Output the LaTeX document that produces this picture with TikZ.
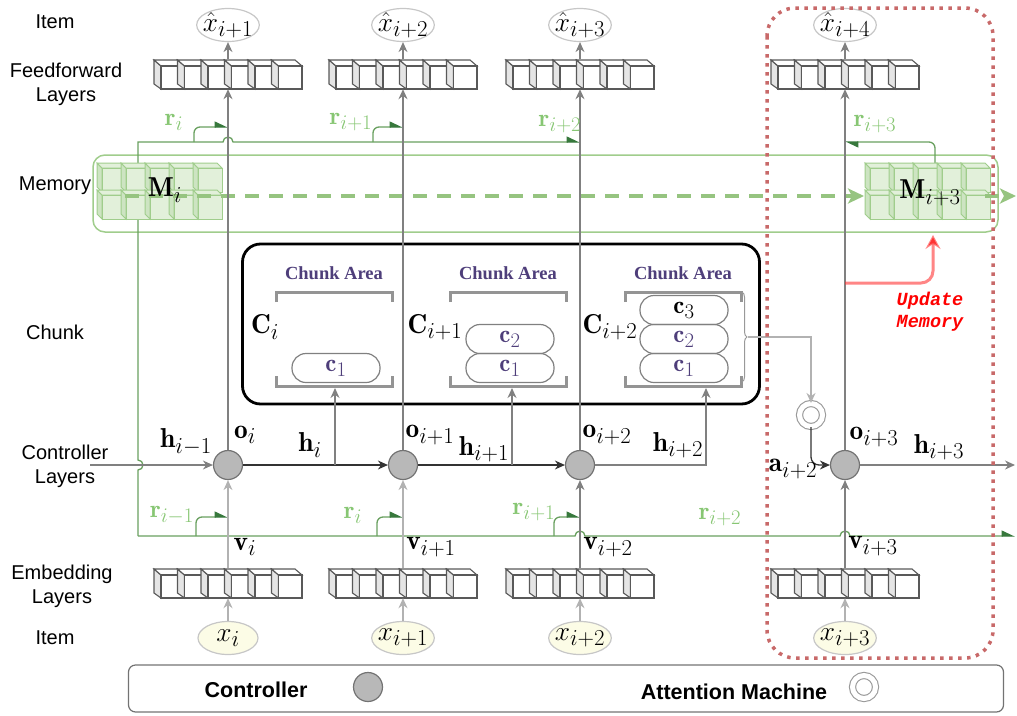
\documentclass[tikz,border=0pt]{standalone}
\usepackage{fontspec}
\newfontfamily\sidefont{Liberation Sans}
\newfontfamily\areafont{Liberation Serif}
\newfontfamily\updfont{Liberation Mono}
\usetikzlibrary{arrows,arrows.meta,positioning,shapes.geometric,decorations.pathreplacing}

\definecolor{memline}{RGB}{160,205,140}
\definecolor{memfill}{RGB}{226,240,218}
\definecolor{memsidefill}{RGB}{205,228,194}
\definecolor{memdash}{RGB}{150,196,128}
\definecolor{rgreen}{RGB}{105,160,95}
\definecolor{rlabel}{RGB}{135,198,115}
\definecolor{tipgreen}{RGB}{55,120,60}
\definecolor{areapurple}{RGB}{78,62,122}
\definecolor{dotred}{RGB}{200,105,105}
\definecolor{itemyellow}{RGB}{252,252,230}

% item text, a bit larger than the biggest math size
\newcommand{\itemtext}[1]{\scalebox{1.1}{$#1$}}

% one row of six cubes, #1 = column x, #2 = front top y
\newcommand{\cuberow}[2]{%
  \foreach \k in {0,...,5}{%
    \pgfmathsetmacro{\cx}{#1-67+23.5*\k}%
    \filldraw[cubeside] (\cx,#2) -- (\cx-7,#2-6) -- (\cx-7,#2+18) -- (\cx,#2+23) -- cycle;
    \filldraw[cubetop] (\cx,#2) -- (\cx-7,#2-6) -- (\cx+16.5,#2-6) -- (\cx+23.5,#2) -- cycle;
    \filldraw[cubefront] (\cx,#2) rectangle (\cx+23.5,#2+23);
  }}

% memory block, 2 x 5 green cubes
\newcommand{\memblock}[2]{%
  \foreach \r in {0,1}{%
    \foreach \k in {0,...,4}{%
      \pgfmathsetmacro{\cx}{#1+24*\k}%
      \pgfmathsetmacro{\cy}{#2+27*\r}%
      \filldraw[memside] (\cx,\cy) -- (\cx-5,\cy-5) -- (\cx-5,\cy+19) -- (\cx,\cy+24) -- cycle;
      \filldraw[memtop] (\cx,\cy) -- (\cx-5,\cy-5) -- (\cx+19,\cy-5) -- (\cx+24,\cy) -- cycle;
      \filldraw[memfront] (\cx,\cy) rectangle (\cx+24,\cy+24);
    }}}

\begin{document}
\begin{tikzpicture}[x=1pt,y=-1pt,>={Stealth[length=10pt,width=9pt]},
  ctrl node/.style={circle,draw=black!55,fill=black!28,line width=1.2pt,minimum size=29pt,inner sep=0pt},
  attn node/.style={circle,draw=black!40,double,double distance=5pt,line width=1.1pt,minimum size=23pt,inner sep=0pt},
  item node/.style={ellipse,draw=black!22,line width=1.2pt,minimum width=60pt,minimum height=33pt,inner xsep=-3pt,inner ysep=-4pt,font=\fontsize{24.88}{28}\selectfont},
  layer node/.style={minimum width=148pt,minimum height=30pt,inner sep=0pt},
  pill node/.style={draw=black!50,line width=1.2pt,rounded corners=14pt,minimum width=88pt,minimum height=29pt,inner sep=0pt,font=\fontsize{24.88}{28}\selectfont},
  side label/.style={font=\sidefont\fontsize{20}{24}\selectfont,align=center},
  legend label/.style={font=\sidefont\bfseries\fontsize{21.5}{25}\selectfont},
  math label/.style={font=\fontsize{24.88}{28}\selectfont,inner sep=0pt,scale=1.1},
  r label/.style={font=\fontsize{24.88}{28}\selectfont,inner sep=0pt,text=rlabel},
  area label/.style={font=\areafont\bfseries\fontsize{18.5}{21}\selectfont,text=areapurple,inner sep=0pt},
  upd text/.style={font=\updfont\bfseries\itshape\fontsize{18.5}{22}\selectfont,text=red,align=center},
  flow/.style={draw=black!50,line width=1.3pt,->},
  soft flow/.style={draw=black!30,line width=1.3pt,->},
  dark flow/.style={draw=black!80,line width=1.3pt,->},
  r line/.style={draw=rgreen,line width=1.3pt},
  r tip/.style={-{Triangle[harpoon,length=12pt,width=11pt,color=tipgreen]}},
  mem flow/.style={draw=memdash,line width=4pt,dash pattern=on 14pt off 10pt,-{Stealth[length=16pt,width=15pt,inset=4pt]}},
  upd/.style={draw=red!80,draw opacity=0.6,line width=3pt,rounded corners=12pt,-{Stealth[length=14pt,width=15pt,inset=5pt]}},
  bracket/.style={draw=black!42,line width=3pt},
  cubeside/.style={draw=black!65,fill=black!10,line width=1.1pt},
  cubetop/.style={draw=black!65,fill=white,line width=1.1pt},
  cubefront/.style={draw=black!65,fill=white,line width=1.1pt},
  memside/.style={draw=memline,fill=memsidefill,line width=1pt},
  memtop/.style={draw=memline,fill=memfill,line width=1pt},
  memfront/.style={draw=memline,fill=memfill,line width=1pt},
  mem box/.style={draw=memline,line width=1.5pt,rounded corners=12pt,minimum width=905pt,minimum height=77pt},
  chunk box/.style={draw=black,line width=2.8pt,rounded corners=18pt,minimum width=517pt,minimum height=160pt},
  dot box/.style={draw=dotred,line width=3.5pt,dash pattern=on 3.5pt off 5.5pt,rounded corners=28pt},
  legend box/.style={draw=black!55,line width=1.2pt,rounded corners=7pt,minimum width=875pt,minimum height=47pt}]

  \useasboundingbox (0,0) rectangle (1017,715);

  % row names
  \node[side label] (litem) at (55,22) {Item};
  \node[side label] (lff) at (66,84) {Feedforward\\Layers};
  \node[side label] (lmem) at (55,186) {Memory};
  \node[side label] (lchunk) at (55,332) {Chunk};
  \node[side label] (lctrl) at (65,466) {Controller\\Layers};
  \node[side label] (lemb) at (62,586) {Embedding\\Layers};
  \node[side label] (litemb) at (55,638) {Item};

  % memory
  \node[mem box] (mem) at (545.5,193.5) {};

  % read lines
  \draw[r line,r tip] (138,536) -- (138,470) arc(90:-90:5) -- (138,142) -- (223,142) arc(-180:0:5) -- (580,142);
  \draw[r line,r tip] (138,536) -- (575,536) arc(-180:0:5) -- (840,536) arc(-180:0:5) -- (1015,536);
  \draw[r line,r tip,rounded corners=6pt] (194,142) -- (194,127) -- (228,127);
  \draw[r line,r tip,rounded corners=6pt] (373,142) -- (373,127) -- (403,127);
  \draw[r line,r tip,rounded corners=6pt] (935,163) -- (935,142) -- (845,142);
  \draw[r line,r tip,rounded corners=6pt] (196,536) -- (196,517) -- (228,517);
  \draw[r line,r tip,rounded corners=6pt] (377,536) -- (377,517) -- (403,517);
  \draw[r line,r tip,rounded corners=6pt] (554,536) -- (554,517) -- (580,517);

  \memblock{102}{168}
  \memblock{870}{168}
  \coordinate (mstart) at (125,196);
  \coordinate (mend) at (864,196);
  \coordinate (mout) at (985,196);
  \coordinate (mright) at (1016,196);
  \draw[mem flow] (mstart) -- (mend);
  \draw[mem flow] (mout) -- (mright);
  \node[math label] (mi) at (165,190) {$\mathbf{M}_i$};
  \node[math label] (mi3) at (930,193) {$\mathbf{M}_{i+3}$};

  % layers
  \node[layer node] (ff1) at (228,74) {};
  \node[layer node] (ff2) at (403,74) {};
  \node[layer node] (ff3) at (580,74) {};
  \node[layer node] (ff4) at (845,74) {};
  \node[layer node] (em1) at (228,583) {};
  \node[layer node] (em2) at (403,583) {};
  \node[layer node] (em3) at (580,583) {};
  \node[layer node] (em4) at (845,583) {};
  \cuberow{228}{66}
  \cuberow{403}{66}
  \cuberow{580}{66}
  \cuberow{845}{66}
  \cuberow{228}{575}
  \cuberow{403}{575}
  \cuberow{580}{575}
  \cuberow{845}{575}

  % items
  \node[item node] (xh1) at (228,25) {\itemtext{\hat{x}_{i+1}}};
  \node[item node] (xh2) at (403,25) {\itemtext{\hat{x}_{i+2}}};
  \node[item node] (xh3) at (580,25) {\itemtext{\hat{x}_{i+3}}};
  \node[item node] (xh4) at (845,25) {\itemtext{\hat{x}_{i+4}}};
  \node[item node,fill=itemyellow] (x1) at (228,638) {\itemtext{x_i}};
  \node[item node,fill=itemyellow] (x2) at (403,638) {\itemtext{x_{i+1}}};
  \node[item node,fill=itemyellow] (x3) at (580,638) {\itemtext{x_{i+2}}};
  \node[item node,fill=itemyellow] (x4) at (845,638) {\itemtext{x_{i+3}}};

  % chunk
  \node[chunk box] (chunk) at (501,324) {};
  \foreach \a in {276,450,625}{
    \draw[bracket] (\a,302) -- (\a,292) -- (\a+116,292) -- (\a+116,302);
    \draw[bracket] (\a,376) -- (\a,386) -- (\a+116,386) -- (\a+116,376);
    \node[area label] (area\a) at (\a+58,273) {Chunk Area};
  }
  \node[pill node,text=areapurple] (pa1) at (336,368) {$\mathbf{c}_1$};
  \node[pill node,text=areapurple] (pb2) at (510,339) {$\mathbf{c}_2$};
  \node[pill node,text=areapurple] (pb1) at (510,368) {$\mathbf{c}_1$};
  \node[pill node] (pc3) at (684,310) {$\mathbf{c}_3$};
  \node[pill node,text=areapurple] (pc2) at (684,339) {$\mathbf{c}_2$};
  \node[pill node,text=areapurple] (pc1) at (684,368) {$\mathbf{c}_1$};
  \node[math label] (ci) at (265,327) {$\mathbf{C}_i$};
  \node[math label] (ci1) at (435,327) {$\mathbf{C}_{i+1}$};
  \node[math label] (ci2) at (610,327) {$\mathbf{C}_{i+2}$};
  \draw[decorate,decoration={brace,amplitude=5pt},draw=black!40,line width=1pt] (742,292) -- (742,382);

  % controller
  \node[ctrl node] (c1) at (228,465) {};
  \node[ctrl node] (c2) at (403,465) {};
  \node[ctrl node] (c3) at (580,465) {};
  \node[ctrl node] (c4) at (845,465) {};
  \node[attn node] (att) at (811,415) {};

  \coordinate (cin) at (90,465);
  \coordinate (hb1) at (335,465);
  \coordinate (ca1) at (335,388);
  \coordinate (hb2) at (512,465);
  \coordinate (ca2) at (512,388);
  \coordinate (ca3) at (706,388);
  \coordinate (brtip) at (748,337);
  \coordinate (hout) at (1015,465);

  \draw[flow] (cin) -- (c1);
  \draw[dark flow] (c1) -- (c2);
  \draw[dark flow] (c2) -- (c3);
  \draw[flow] (hb1) -- (ca1);
  \draw[flow] (hb2) -- (ca2);
  \draw[flow] (c3) -| (ca3);
  \draw[soft flow] (brtip) -| (att);
  \draw[dark flow,rounded corners=8pt] (att) |- (c4);
  \draw[flow] (c4) -- (hout);

  \draw[flow] (c1) -- (ff1);
  \draw[flow] (c2) -- (ff2);
  \draw[flow] (c3) -- (ff3);
  \draw[flow] (c4) -- (ff4);
  \draw[flow] (ff1) -- (xh1);
  \draw[flow] (ff2) -- (xh2);
  \draw[flow] (ff3) -- (xh3);
  \draw[flow] (ff4) -- (xh4);
  \draw[soft flow] (em1) -- (c1);
  \draw[soft flow] (em2) -- (c2);
  \draw[flow] (em3) -- (c3);
  \draw[flow] (em4) -- (c4);
  \draw[soft flow] (x1) -- (em1);
  \draw[soft flow] (x2) -- (em2);
  \draw[soft flow] (x3) -- (em3);
  \draw[soft flow] (x4) -- (em4);

  % labels
  \node[math label] (lh0) at (186,442) {$\mathbf{h}_{i-1}$};
  \node[math label] (lo1) at (245,435) {$\mathbf{o}_i$};
  \node[math label] (lh1) at (310,445) {$\mathbf{h}_i$};
  \node[math label] (lo2) at (430,435) {$\mathbf{o}_{i+1}$};
  \node[math label] (lh2) at (484,449) {$\mathbf{h}_{i+1}$};
  \node[math label] (lo3) at (607,435) {$\mathbf{o}_{i+2}$};
  \node[math label] (lh3) at (678,445) {$\mathbf{h}_{i+2}$};
  \node[math label] (lo4) at (874,437) {$\mathbf{o}_{i+3}$};
  \node[math label] (lh4) at (939,447) {$\mathbf{h}_{i+3}$};
  \node[math label] (la) at (793,469) {$\mathbf{a}_{i+2}$};
  \node[math label] (lv1) at (245,547) {$\mathbf{v}_i$};
  \node[math label] (lv2) at (431,547) {$\mathbf{v}_{i+1}$};
  \node[math label] (lv3) at (608,547) {$\mathbf{v}_{i+2}$};
  \node[math label] (lv4) at (873,546) {$\mathbf{v}_{i+3}$};
  \node[r label] (lr1) at (174,122) {$\mathbf{r}_i$};
  \node[r label] (lr2) at (351,122) {$\mathbf{r}_{i+1}$};
  \node[r label] (lr3) at (560,124) {$\mathbf{r}_{i+2}$};
  \node[r label] (lr4) at (875,124) {$\mathbf{r}_{i+3}$};
  \node[r label] (lr0b) at (172,515) {$\mathbf{r}_{i-1}$};
  \node[r label] (lr1b) at (353,515) {$\mathbf{r}_i$};
  \node[r label] (lr2b) at (534,512) {$\mathbf{r}_{i+1}$};
  \node[r label] (lr3b) at (720,517) {$\mathbf{r}_{i+2}$};

  % memory update
  \coordinate (ustart) at (845,283);
  \coordinate (uend) at (933,235);
  \draw[upd] (ustart) -| (uend);
  \node[upd text] (updlbl) at (930,312) {Update\\Memory};

  % last step window
  \draw[dot box] (767,8) rectangle (993,658);

  % legend
  \node[legend box] (legend) at (566,688.5) {};
  \node[legend label] (lgc) at (256,690) {Controller};
  \node[ctrl node] (lgcirc) at (368,687) {};
  \node[legend label] (lga) at (734,692) {Attention Machine};
  \node[attn node] (lgatt) at (864,687) {};
\end{tikzpicture}
\end{document}
